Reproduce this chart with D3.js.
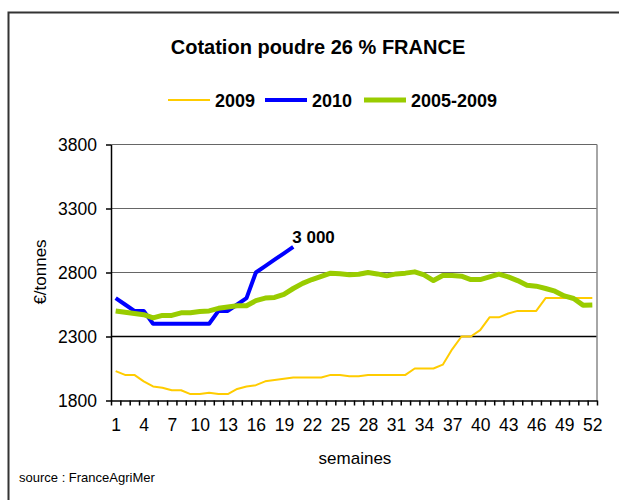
<!DOCTYPE html>
<html>
<head>
<meta charset="utf-8">
<script src="https://cdn.jsdelivr.net/npm/d3@7"></script>
<style>
  body { margin: 0; background: #fff; }
  svg { font-family: "Liberation Sans", Arial, sans-serif; }
</style>
</head>
<body>
<div id="chart"></div>
<script>
// semaines 1..52
var weeks = d3.range(1, 53);
var weekLabels = [1, 4, 7, 10, 13, 16, 19, 22, 25, 28, 31, 34, 37, 40, 43, 46, 49, 52];
var yTicks = [1800, 2300, 2800, 3300, 3800];

var serie2009 = [2030, 2000, 2000, 1950, 1910, 1900, 1880, 1880, 1850, 1850,
                 1860, 1850, 1850, 1890, 1910, 1920, 1950, 1960, 1970, 1980,
                 1980, 1980, 1980, 2000, 2000, 1990, 1990, 2000, 2000, 2000,
                 2000, 2000, 2050, 2050, 2050, 2080, 2200, 2300, 2300, 2350,
                 2450, 2450, 2480, 2500, 2500, 2500, 2600, 2600, 2600, 2600,
                 2600, 2600];
var serie2010 = [2600, 2550, 2500, 2500, 2400, 2400, 2400, 2400, 2400, 2400,
                 2400, 2500, 2500, 2550, 2600, 2800, 2850, 2900, 2950, 3000];
var serieMoy = [2500, 2490, 2480, 2470, 2445, 2465, 2465, 2485, 2485, 2495,
                2500, 2520, 2530, 2540, 2540, 2580, 2600, 2605, 2630, 2675,
                2715, 2745, 2770, 2795, 2790, 2782, 2787, 2800, 2789, 2774,
                2789, 2795, 2805, 2782, 2737, 2776, 2776, 2771, 2745, 2745,
                2766, 2787, 2766, 2737, 2701, 2693, 2675, 2654, 2617, 2597,
                2545, 2547];

var series = [
  {nom: '2009', valeurs: serie2009, couleur: '#FFCC00', largeur: 2},
  {nom: '2010', valeurs: serie2010, couleur: '#0000FF', largeur: 4},
  {nom: '2005-2009', valeurs: serieMoy, couleur: '#99CC00', largeur: 5}
];

var svg = d3.select('#chart').append('svg')
    .attr('width', 619)
    .attr('height', 500);

// cadre
svg.append('rect')
    .attr('x', 8.5).attr('y', 12.5)
    .attr('width', 640).attr('height', 520)
    .attr('fill', 'none')
    .attr('stroke', '#333')
    .attr('stroke-width', 2);

var gauche = 111, droite = 597, haut = 144.5, bas = 400.5;

var x = d3.scaleLinear().domain([0.5, 52.5]).range([gauche, droite]);
var y = d3.scaleLinear().domain([1800, 3800]).range([bas, haut]);

// grille
svg.append('g')
    .selectAll('line')
    .data(yTicks.slice(1))
    .enter()
    .append('line')
    .attr('x1', gauche).attr('x2', droite)
    .attr('y1', function(d){ return y(d); })
    .attr('y2', function(d){ return y(d); })
    .attr('stroke', function(d){ return d == 2300 ? '#000' : '#666'; })
    .attr('stroke-width', function(d){ return d == 2300 ? 1.5 : 1; });

// bord droit
svg.append('line')
    .attr('x1', droite).attr('x2', droite)
    .attr('y1', haut).attr('y2', bas)
    .attr('stroke', '#888').attr('stroke-width', 1.5);

// axe y
var axeY = svg.append('g')
    .attr('transform', 'translate(' + gauche + ',0)')
    .call(d3.axisLeft(y).tickValues(yTicks).tickSize(5).tickSizeOuter(0).tickPadding(9).tickFormat(d3.format('d')));
axeY.selectAll('text').style('font-size', '17.5px').attr('fill', '#000');
axeY.selectAll('line, path').attr('stroke', '#000').attr('stroke-width', 1.5);

// axe x : traits entre les categories
var limites = d3.range(0, 53).map(function(d){ return d + 0.5; });
var axeX = svg.append('g')
    .attr('transform', 'translate(0,' + bas + ')')
    .call(d3.axisBottom(x).tickValues(limites).tickSize(5).tickSizeOuter(0).tickFormat(''));
axeX.selectAll('line, path').attr('stroke', '#000').attr('stroke-width', 1.5);

var etiquettesX = svg.append('g')
    .attr('transform', 'translate(0,' + bas + ')')
    .call(d3.axisBottom(x).tickValues(weekLabels).tickSize(0).tickPadding(18));
etiquettesX.select('.domain').remove();
etiquettesX.selectAll('text').style('font-size', '17.5px').attr('fill', '#000');

// courbes
var ligne = d3.line()
    .x(function(d, i){ return x(weeks[i]); })
    .y(function(d){ return y(d); });

svg.append('g')
    .selectAll('path')
    .data(series)
    .enter()
    .append('path')
    .attr('d', function(d){ return ligne(d.valeurs); })
    .attr('fill', 'none')
    .attr('stroke', function(d){ return d.couleur; })
    .attr('stroke-width', function(d){ return d.largeur; })
    .attr('stroke-linejoin', 'round');

// etiquette derniere valeur 2010
var dernier = serie2010.length - 1;
svg.append('text')
    .attr('x', x(weeks[dernier]) - 1)
    .attr('y', y(serie2010[dernier]) - 4)
    .style('font-size', '17px')
    .style('font-weight', 'bold')
    .text(d3.format(',')(serie2010[dernier]).replace(',', ' '));

// titre
svg.append('text')
    .attr('x', 318).attr('y', 54)
    .attr('text-anchor', 'middle')
    .style('font-size', '20px')
    .style('font-weight', 'bold')
    .text('Cotation poudre 26 % FRANCE');

// legende
var legende = svg.append('g').attr('transform', 'translate(168,100)');
var posLeg = [0, 97, 196];
series.forEach(function(s, i){
    var g = legende.append('g').attr('transform', 'translate(' + posLeg[i] + ',0)');
    g.append('line')
        .attr('x1', 0).attr('x2', 42)
        .attr('y1', 0).attr('y2', 0)
        .attr('stroke', s.couleur)
        .attr('stroke-width', s.largeur);
    g.append('text')
        .attr('x', 47).attr('y', 6.5)
        .style('font-size', '18px')
        .style('font-weight', 'bold')
        .text(s.nom);
});

// titres des axes
svg.append('text')
    .attr('transform', 'translate(46,272) rotate(-90)')
    .attr('text-anchor', 'middle')
    .style('font-size', '17px')
    .text('€/tonnes');

svg.append('text')
    .attr('x', 355).attr('y', 464)
    .attr('text-anchor', 'middle')
    .style('font-size', '17px')
    .text('semaines');

svg.append('text')
    .attr('x', 19).attr('y', 482)
    .style('font-size', '13px')
    .text('source : FranceAgriMer');
</script>
</body>
</html>
